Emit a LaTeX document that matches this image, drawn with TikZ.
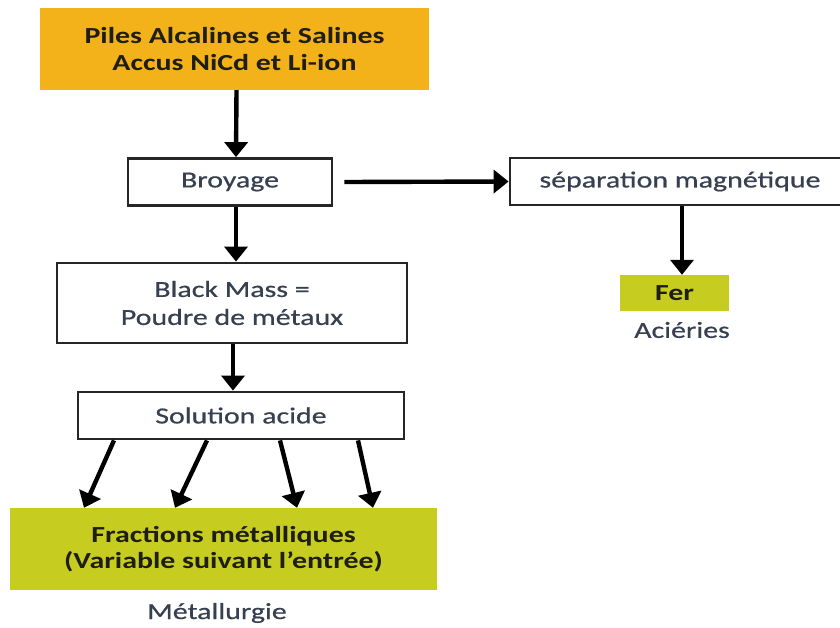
\documentclass[tikz,border=0pt]{standalone}
\usepackage{fontspec}
\setmainfont[FakeStretch=1.3]{Carlito}
\newfontfamily\medfont[FakeStretch=1.3,FakeBold=0.6]{Carlito}
\usetikzlibrary{arrows.meta}
\definecolor{orangebox}{RGB}{243,178,26}
\definecolor{greenbox}{RGB}{198,205,32}
\definecolor{boxtext}{RGB}{55,64,80}
\definecolor{darktext}{RGB}{30,30,20}
\tikzset{
  plainbox/.style={draw=black!85, line width=2.8pt, fill=white, text=boxtext, font=\medfont\fontsize{23}{28}\selectfont, align=center, inner sep=0pt},
  colbox/.style={text=darktext, font=\bfseries\fontsize{23}{26.5}\selectfont, align=center, inner sep=0pt},
  lbl/.style={text=boxtext, font=\medfont\fontsize{23}{26}\selectfont, inner sep=0pt},
  arr/.style={line width=4.4pt, black, -{Triangle[length=15pt,width=23pt]}, shorten >=0pt}
}
\begin{document}
\begin{tikzpicture}[x=1pt,y=-1pt]
\clip (0,0) rectangle (840,627);
\fill[white] (0,0) rectangle (840,627);
\node[colbox, fill=orangebox, minimum width=389pt, minimum height=82pt] (top) at (234.5,49) {Piles Alcalines et Salines\\Accus NiCd et Li-ion};
\node[plainbox, minimum width=204pt, minimum height=47pt] (bro) at (230,182) {Broyage};
\node[plainbox, minimum width=340pt, minimum height=47pt] (sep) at (680,181.5) {séparation magnétique};
\node[plainbox, minimum width=350pt, minimum height=80pt] (bm) at (232,303) {Black Mass =\\Poudre de métaux};
\node[plainbox, minimum width=326pt, minimum height=47pt] (sol) at (241,415.5) {Solution acide};
\node[colbox, fill=greenbox, minimum width=427pt, minimum height=82pt] (frac) at (223.5,549) {Fractions métalliques\\(Variable suivant l’entrée)};
\node[colbox, fill=greenbox, minimum width=109pt, minimum height=36pt] (fer) at (674.5,293) {Fer};
\node[lbl] (aci) at (682,330) {Aciéries};
\node[lbl] (met) at (217,613) {Métallurgie};
\draw[arr] ([xshift=2pt]top.south) -- ([xshift=6pt]bro.north);
\draw[arr] ([xshift=6pt]bro.south) -- ([xshift=4pt]bm.north);
\draw[arr] ([xshift=1pt]bm.south) -- ([xshift=-8pt]sol.north);
\draw[arr] ([xshift=11pt]bro.east) -- (sep.west);
\draw[arr] ([xshift=2pt]sep.south) -- ([xshift=7.5pt]fer.north);
\draw[arr] ([xshift=-127pt]sol.south) -- ([xshift=-139.5pt]frac.north);
\draw[arr] ([xshift=-34pt]sol.south) -- ([xshift=-48.5pt]frac.north);
\draw[arr] ([xshift=39pt]sol.south) -- ([xshift=73.5pt]frac.north);
\draw[arr] ([xshift=117pt]sol.south) -- ([xshift=149.5pt]frac.north);
\end{tikzpicture}
\end{document}
